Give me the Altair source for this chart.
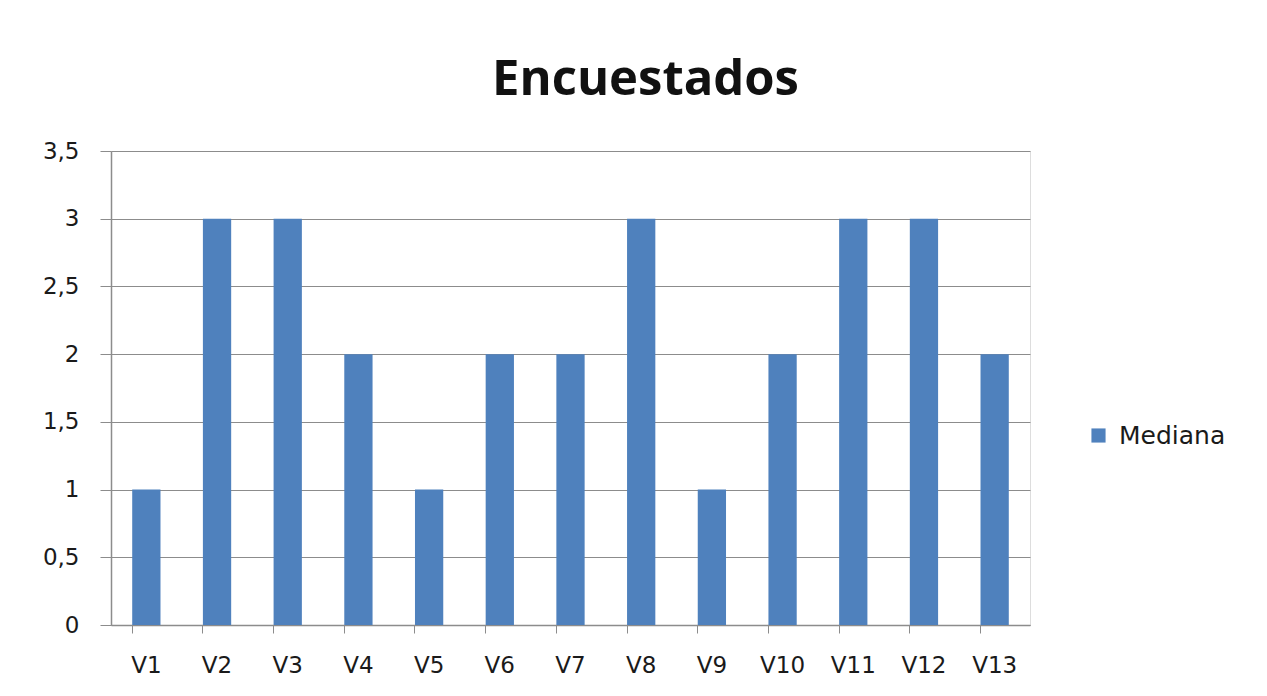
import altair as alt
import pandas as pd

categories = ["V1", "V2", "V3", "V4", "V5", "V6", "V7", "V8", "V9", "V10", "V11", "V12", "V13"]
mediana = [1, 3, 3, 2, 1, 2, 2, 3, 1, 2, 3, 3, 2]
series_name = "Mediana"
title_text = "Encuestados"

df = pd.DataFrame({"cat": categories, "val": mediana, "serie": [series_name] * len(categories)})

GRID = "#8c8c8c"
FONT = "DejaVu Sans"

bars = alt.Chart(df).mark_bar(color="#4F81BD").encode(
    x=alt.X(
        "cat:N",
        sort=categories,
        title=None,
        scale=alt.Scale(paddingInner=0.6, paddingOuter=0.3),
        axis=alt.Axis(
            labelAngle=0,
            bandPosition=0,
            tickSize=8,
            tickColor=GRID,
            domainColor=GRID,
            domainWidth=1.5,
            labelFont=FONT,
            labelFontSize=23,
            labelColor="#1a1a1a",
            labelPadding=21,
            grid=False,
        ),
    ),
    y=alt.Y(
        "val:Q",
        title=None,
        scale=alt.Scale(domain=[0, 3.5], nice=False),
        axis=alt.Axis(
            values=[0, 0.5, 1, 1.5, 2, 2.5, 3, 3.5],
            labelExpr="replace(format(datum.value, '.1~f'), '.', ',')",
            tickSize=11,
            tickColor=GRID,
            domainColor=GRID,
            domainWidth=1.5,
            gridColor=GRID,
            gridWidth=1.2,
            labelFont=FONT,
            labelFontSize=23,
            labelColor="#1a1a1a",
            labelPadding=21,
        ),
    ),
    fill=alt.Fill(
        "serie:N",
        scale=alt.Scale(range=["#4F81BD"]),
        legend=alt.Legend(
            title=None,
            orient="none",
            legendX=975,
            legendY=272,
            symbolType="square",
            symbolSize=200,
            labelFont=FONT,
            labelFontSize=25,
            labelColor="#1a1a1a",
            labelOffset=8,
        ),
    ),
)

chart = bars.properties(
    width=919,
    height=474,
    title=alt.TitleParams(
        title_text,
        font="Open Sans",
        fontSize=49,
        fontWeight="bold",
        color="#111111",
        anchor="middle",
        dx=75,
        offset=35,
    ),
    autosize=alt.AutoSizeParams(type="none"),
    padding={"left": 103, "top": 143, "right": 229, "bottom": 63},
).configure_view(stroke=None).configure(background="white")

chart.save("out.html", embed_options={"renderer": "svg", "actions": False})
